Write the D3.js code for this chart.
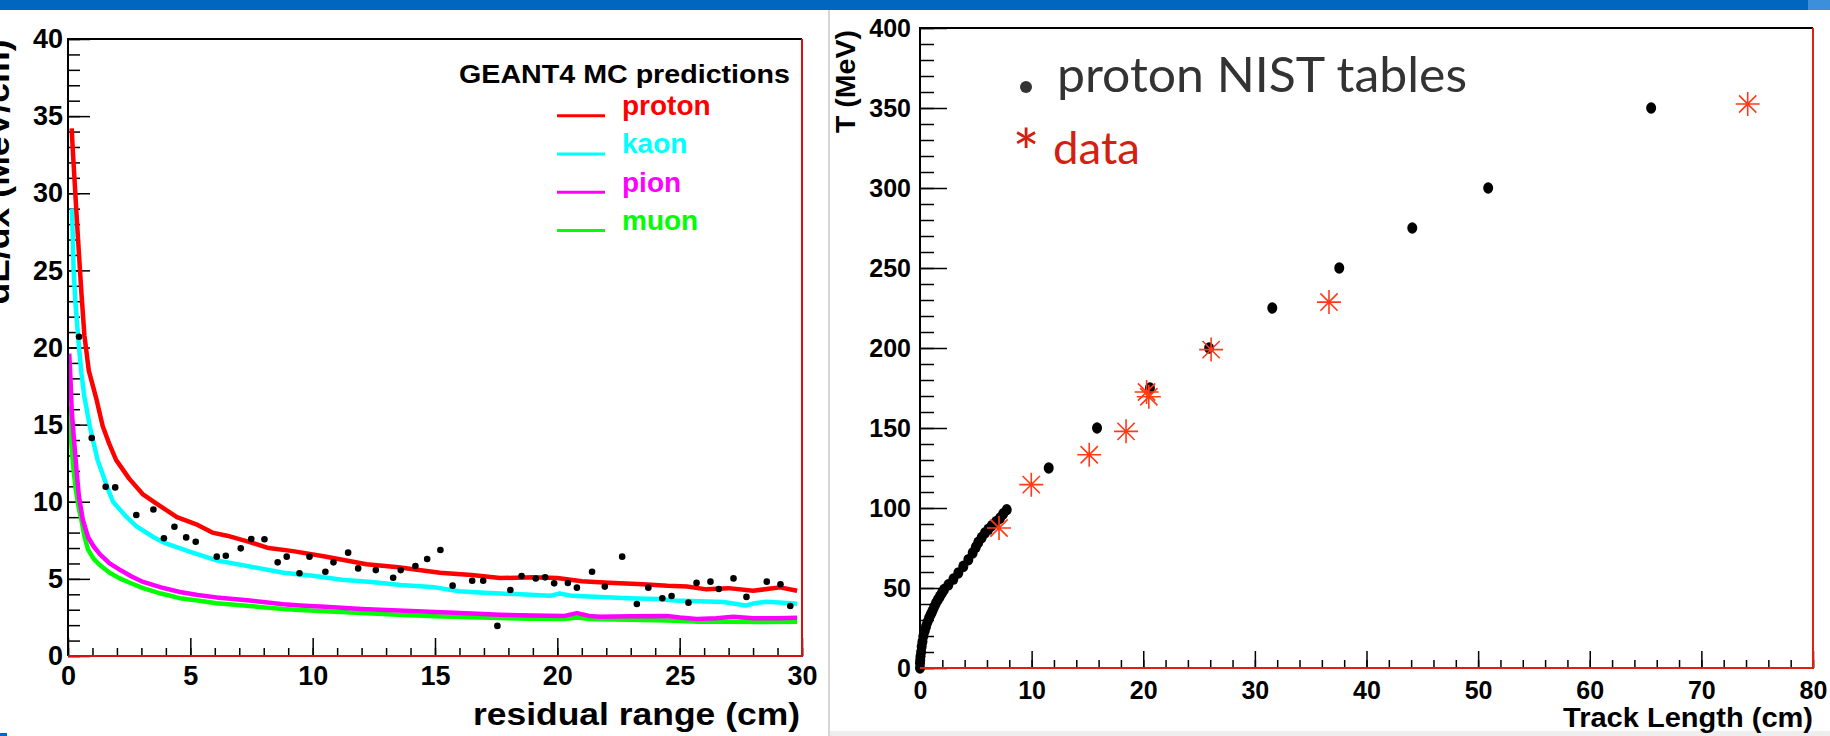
<!DOCTYPE html>
<html lang="en">
<head>
<meta charset="UTF-8">
<title>dE/dx and range</title>
<script src="https://d3js.org/d3.v7.min.js"></script>
<style>
  body { margin: 0; background: #fff; }
  text { font-family: 'Liberation Sans', Arial, sans-serif; font-weight: bold; fill: #000; }
  .gill { font-family: Lato, 'Open Sans', sans-serif; font-weight: normal; }
</style>
</head>
<body>
<script>
  // ---- left panel: GEANT4 dE/dx curves vs residual range ----
  const protonCurve = [[0.15,34.2],[0.2,32.7],[0.27,30.8],[0.35,28.6],[0.45,26.0],[0.55,23.5],[0.67,20.8],[0.85,18.5],[1.17,16.6],[1.42,14.9],
    [1.7,13.7],[1.97,12.7],[2.5,11.5],[3.05,10.5],[3.6,9.9],[4.45,9.0],[5.3,8.5],[5.9,8.0],[6.5,7.8],[7.4,7.4],[8.2,7.0],[9.2,6.8],
    [10.5,6.45],[12.2,5.95],[13.5,5.75],[15.2,5.4],[16.5,5.25],[17.66,5.05],[19.0,5.1],[20.0,5.05],[21.0,4.85],[22.1,4.75],[23.5,4.65],
    [24.5,4.55],[25.3,4.5],[26.1,4.32],[27.0,4.4],[28.0,4.23],[29.1,4.45],[29.8,4.23]];
  const kaonCurve = [[0.16,29.0],[0.2,27.0],[0.23,25.0],[0.3,23.0],[0.45,20.0],[0.55,18.3],[0.67,16.8],[0.89,14.9],[1.21,12.7],[1.64,10.8],
    [1.84,10.0],[2.4,9.0],[2.8,8.4],[3.5,7.7],[4.0,7.3],[5.0,6.75],[6.07,6.2],[7.43,5.8],[8.8,5.4],[10.0,5.2],[11.2,4.95],[12.4,4.8],
    [13.6,4.6],[15.0,4.45],[16.0,4.2],[17.0,4.1],[17.66,4.05],[18.5,4.0],[19.7,3.9],[20.1,4.05],[20.6,3.9],[21.75,3.82],[22.9,3.75],
    [24.07,3.7],[24.8,3.6],[25.8,3.55],[26.8,3.5],[27.7,3.27],[28.0,3.4],[28.57,3.52],[29.2,3.45],[29.8,3.38]];
  const pionCurve = [[0.05,19.6],[0.1,18.0],[0.15,16.0],[0.23,14.3],[0.35,12.0],[0.45,10.3],[0.61,8.8],[0.82,7.7],[1.05,7.1],[1.3,6.6],
    [1.7,6.0],[2.11,5.6],[2.6,5.15],[3.07,4.8],[3.8,4.45],[4.57,4.15],[5.3,3.95],[6.07,3.8],[7.43,3.6],[8.8,3.35],[9.48,3.28],[10.5,3.2],
    [12.0,3.05],[13.5,2.95],[15.0,2.85],[16.5,2.75],[17.66,2.68],[19.0,2.62],[20.3,2.6],[20.8,2.78],[21.3,2.6],[21.75,2.55],[23.0,2.58],
    [24.47,2.6],[25.0,2.5],[25.7,2.4],[26.5,2.45],[27.2,2.55],[28.0,2.45],[29.0,2.45],[29.8,2.48]];
  const muonCurve = [[0.05,16.2],[0.1,14.5],[0.2,12.5],[0.3,11.0],[0.45,9.5],[0.55,8.8],[0.68,7.7],[0.82,6.9],[1.05,6.3],[1.3,5.9],
    [1.7,5.4],[2.11,5.03],[2.6,4.7],[3.07,4.4],[3.8,4.05],[4.57,3.75],[5.3,3.6],[6.07,3.42],[7.43,3.24],[8.8,3.05],[9.48,2.98],[10.5,2.9],
    [12.0,2.78],[13.5,2.68],[15.0,2.58],[16.5,2.52],[17.66,2.46],[19.0,2.42],[20.3,2.4],[20.8,2.5],[21.3,2.4],[21.75,2.38],[23.0,2.35],
    [24.5,2.3],[25.8,2.22],[27.0,2.22],[28.5,2.2],[29.8,2.22]];

  const residualRange = [0.45,0.97,1.54,1.93,2.79,3.49,3.92,4.35,4.83,5.22,6.08,6.45,7.06,7.49,8.03,8.57,8.94,9.46,9.87,10.52,10.85,
    11.45,11.86,12.58,13.29,13.6,14.2,14.68,15.22,15.72,16.52,16.97,17.55,18.08,18.54,19.12,19.5,19.87,20.43,20.8,21.42,21.94,22.65,
    23.25,23.72,24.29,24.67,25.36,25.69,26.26,26.6,27.2,27.73,28.56,29.12,29.52];
  const dedx = [20.7,14.13,10.97,10.93,9.14,9.5,7.63,8.38,7.69,7.41,6.44,6.5,6.98,7.58,7.57,6.07,6.44,5.36,6.44,5.46,6.07,
    6.7,5.68,5.57,5.07,5.57,5.83,6.29,6.87,4.56,4.88,4.88,1.95,4.28,5.18,5.02,5.1,4.71,4.73,4.43,5.46,4.5,6.44,
    3.37,4.43,3.74,3.89,3.46,4.74,4.82,4.34,5.03,3.83,4.82,4.65,3.24];

  const species = ['proton', 'kaon', 'pion', 'muon'];
  const speciesColor = ['#ff0000', '#00ffff', '#ff00ff', '#00ff00'];
  const curves = [protonCurve, kaonCurve, pionCurve, muonCurve];

  // ---- right panel: kinetic energy vs track length ----
  const nistLength = [0, 0, 0.02, 0.05, 0.1, 0.15, 0.22, 0.3, 0.42, 0.54, 0.67, 0.81, 0.95, 1.1, 1.26, 1.43, 1.6, 1.79, 1.97, 2.15,
                      2.54, 2.99, 3.43, 3.88, 4.33, 4.72, 5.0, 5.22, 5.52, 5.82, 6.12, 6.42, 6.8, 7.17, 7.45, 7.77,
                      11.53, 15.86, 20.6, 25.9, 31.56, 37.56, 44.1, 50.9, 65.5];
  const nistT =      [0, 3, 5, 7.3, 10, 13.5, 16.5, 19.8, 23, 26, 28.7, 31.2, 33.3, 35.4, 38, 40.6, 42.7, 44.8, 47, 49,
                      52, 55.6, 59.4, 63.5, 67.7, 71.9, 75.5, 78.5, 81.5, 84.4, 86.7, 88.9, 91.3, 93.7, 96.3, 98.9,
                      125, 150, 175, 200, 225, 250, 275, 300, 350];
  const dataLength = [7.08, 9.97, 15.16, 18.46, 20.3, 20.5, 26.08, 36.64, 74.15];
  const dataT =      [87.5, 114.6, 133.3, 147.9, 172.5, 169.5, 199, 228.7, 352.5];

  const width = 1830, height = 736;
  const svg = d3.select("body").append("svg")
      .attr("width", width)
      .attr("height", height);

  // page decorations
  svg.append("rect").attr("x", 0).attr("y", 0).attr("width", width).attr("height", 10).attr("fill", "#0066bf");
  svg.append("rect").attr("x", 1808).attr("y", 0).attr("width", 22).attr("height", 10).attr("fill", "#3d8fd9");
  svg.append("rect").attr("x", 829).attr("y", 731).attr("width", 1001).attr("height", 5).attr("fill", "#eeeeee");
  svg.append("line").attr("x1", 829).attr("x2", 829).attr("y1", 10).attr("y2", 736)
      .attr("stroke", "#d6d6d6").attr("stroke-width", 2);
  svg.append("rect").attr("x", 0).attr("y", 733).attr("width", 7).attr("height", 3).attr("fill", "#0066bf");

  function styleAxis(g, size) {
    g.attr("font-size", null).attr("font-family", null);
    g.select(".domain").remove();
    g.selectAll(".tick line").attr("stroke", "#000").attr("stroke-width", 1.5);
    g.selectAll(".tick text").style("font-size", size + "px").attr("fill", "#000");
  }

  // ===== left plot =====
  const xL = d3.scaleLinear().domain([0, 30]).range([68, 802]);
  const yL = d3.scaleLinear().domain([0, 40]).range([656, 39]);

  svg.append("g").attr("transform", `translate(${xL(0)},0)`)
      .call(d3.axisLeft(yL).tickValues(d3.range(0, 41, 1)).tickSize(-12).tickFormat(""))
      .call(g => styleAxis(g, 26));
  svg.append("g").attr("transform", `translate(${xL(0)},0)`)
      .call(d3.axisLeft(yL).tickValues(d3.range(0, 41, 5)).tickSize(-22).tickPadding(5))
      .call(g => styleAxis(g, 27));
  svg.append("g").attr("transform", `translate(0,${yL(0)})`)
      .call(d3.axisBottom(xL).tickValues(d3.range(0, 31, 1)).tickSize(-8).tickFormat(""))
      .call(g => styleAxis(g, 26));
  svg.append("g").attr("transform", `translate(0,${yL(0)})`)
      .call(d3.axisBottom(xL).tickValues(d3.range(0, 31, 5)).tickSize(-18).tickPadding(10))
      .call(g => styleAxis(g, 27));

  const lineL = d3.line().x(d => xL(d[0])).y(d => yL(d[1]));
  svg.append("g").selectAll("path")
      .data(curves.slice().reverse())
      .enter().append("path")
      .attr("d", lineL)
      .attr("fill", "none")
      .attr("stroke", (d, i) => speciesColor[3 - i])
      .attr("stroke-width", 4.5)
      .attr("stroke-linejoin", "round");

  svg.append("g").selectAll("circle")
      .data(residualRange)
      .enter().append("circle")
      .attr("cx", d => xL(d))
      .attr("cy", (d, i) => yL(dedx[i]))
      .attr("r", 3.3)
      .attr("fill", "#000");

  // frame
  svg.append("path").attr("d", `M${xL(0)},${yL(0)}V${yL(40)}H${xL(30)}`)
      .attr("fill", "none").attr("stroke", "#000").attr("stroke-width", 2);
  svg.append("path").attr("d", `M${xL(30)},${yL(40)}V${yL(0)}H${xL(0)}`)
      .attr("fill", "none").attr("stroke", "#d81010").attr("stroke-width", 2);

  // legend
  svg.append("text").attr("x", 459).attr("y", 83).text("GEANT4 MC predictions")
      .style("font-size", "26px").attr("textLength", 331).attr("lengthAdjust", "spacingAndGlyphs");
  const legL = svg.append("g");
  legL.selectAll("line").data(species).enter().append("line")
      .attr("x1", 557).attr("x2", 605)
      .attr("y1", (d, i) => 115.7 + i * 38.3).attr("y2", (d, i) => 115.7 + i * 38.3)
      .attr("stroke", (d, i) => speciesColor[i]).attr("stroke-width", 3);
  legL.selectAll("text").data(species).enter().append("text")
      .attr("x", 622).attr("y", (d, i) => 115 + i * 38.3)
      .style("font-size", "28px").style("fill", (d, i) => speciesColor[i])
      .text(d => d);

  // axis titles
  svg.append("text").attr("x", 800).attr("y", 725).attr("text-anchor", "end")
      .style("font-size", "32px").attr("textLength", 327).attr("lengthAdjust", "spacingAndGlyphs")
      .text("residual range (cm)");
  svg.append("text").attr("transform", "translate(9,172) rotate(-90)").attr("text-anchor", "middle")
      .style("font-size", "34px").attr("textLength", 265).attr("lengthAdjust", "spacingAndGlyphs")
      .text("dE/dx (MeV/cm)");

  // ===== right plot =====
  const xR = d3.scaleLinear().domain([0, 80]).range([920, 1813]);
  const yR = d3.scaleLinear().domain([0, 400]).range([668, 28]);

  svg.append("g").attr("transform", `translate(${xR(0)},0)`)
      .call(d3.axisLeft(yR).tickValues(d3.range(0, 401, 10)).tickSize(-14).tickFormat(""))
      .call(g => styleAxis(g, 25));
  svg.append("g").attr("transform", `translate(${xR(0)},0)`)
      .call(d3.axisLeft(yR).tickValues(d3.range(0, 401, 50)).tickSize(-27).tickPadding(9))
      .call(g => styleAxis(g, 25));
  svg.append("g").attr("transform", `translate(0,${yR(0)})`)
      .call(d3.axisBottom(xR).tickValues(d3.range(0, 81, 2)).tickSize(-8).tickFormat(""))
      .call(g => styleAxis(g, 25));
  svg.append("g").attr("transform", `translate(0,${yR(0)})`)
      .call(d3.axisBottom(xR).tickValues(d3.range(0, 81, 10)).tickSize(-17).tickPadding(13))
      .call(g => styleAxis(g, 25));

  svg.append("g").selectAll("ellipse")
      .data(nistLength)
      .enter().append("ellipse")
      .attr("cx", d => xR(d))
      .attr("cy", (d, i) => yR(nistT[i]))
      .attr("rx", 5)
      .attr("ry", 5.8)
      .attr("fill", "#000");

  const star = 12, diag = star * 0.72;
  svg.append("g").selectAll("path")
      .data(dataLength)
      .enter().append("path")
      .attr("transform", (d, i) => `translate(${xR(d)},${yR(dataT[i])})`)
      .attr("d", `M${-star},0H${star}M0,${-star}V${star}M${-diag},${-diag}L${diag},${diag}M${-diag},${diag}L${diag},${-diag}`)
      .attr("fill", "none")
      .attr("stroke", "#ff3a1a")
      .attr("stroke-width", 1.6);

  svg.append("path").attr("d", `M${xR(0)},${yR(0)}V${yR(400)}H${xR(80)}`)
      .attr("fill", "none").attr("stroke", "#000").attr("stroke-width", 2);
  svg.append("path").attr("d", `M${xR(80)},${yR(400)}V${yR(0)}H${xR(0)}`)
      .attr("fill", "none").attr("stroke", "#e02010").attr("stroke-width", 2);

  // legend
  svg.append("circle").attr("cx", 1026).attr("cy", 87).attr("r", 6).attr("fill", "#333");
  svg.append("text").attr("class", "gill").attr("x", 1057).attr("y", 92)
      .style("font-size", "48px").style("fill", "#333")
      .attr("textLength", 410).attr("lengthAdjust", "spacingAndGlyphs")
      .text("proton NIST tables");
  svg.append("text").attr("class", "gill").attr("x", 1026).attr("y", 176).attr("text-anchor", "middle")
      .style("font-size", "64px").style("fill", "#d42010")
      .text("*");
  svg.append("text").attr("class", "gill").attr("x", 1053).attr("y", 164)
      .style("font-size", "44px").style("fill", "#d42010")
      .attr("textLength", 87).attr("lengthAdjust", "spacingAndGlyphs")
      .text("data");

  // axis titles
  svg.append("text").attr("x", 1813).attr("y", 727).attr("text-anchor", "end")
      .style("font-size", "27px").attr("textLength", 250).attr("lengthAdjust", "spacingAndGlyphs")
      .text("Track Length (cm)");
  svg.append("text").attr("transform", "translate(855,133) rotate(-90)")
      .style("font-size", "27px").attr("textLength", 103).attr("lengthAdjust", "spacingAndGlyphs")
      .text("T (MeV)");
</script>
</body>
</html>
